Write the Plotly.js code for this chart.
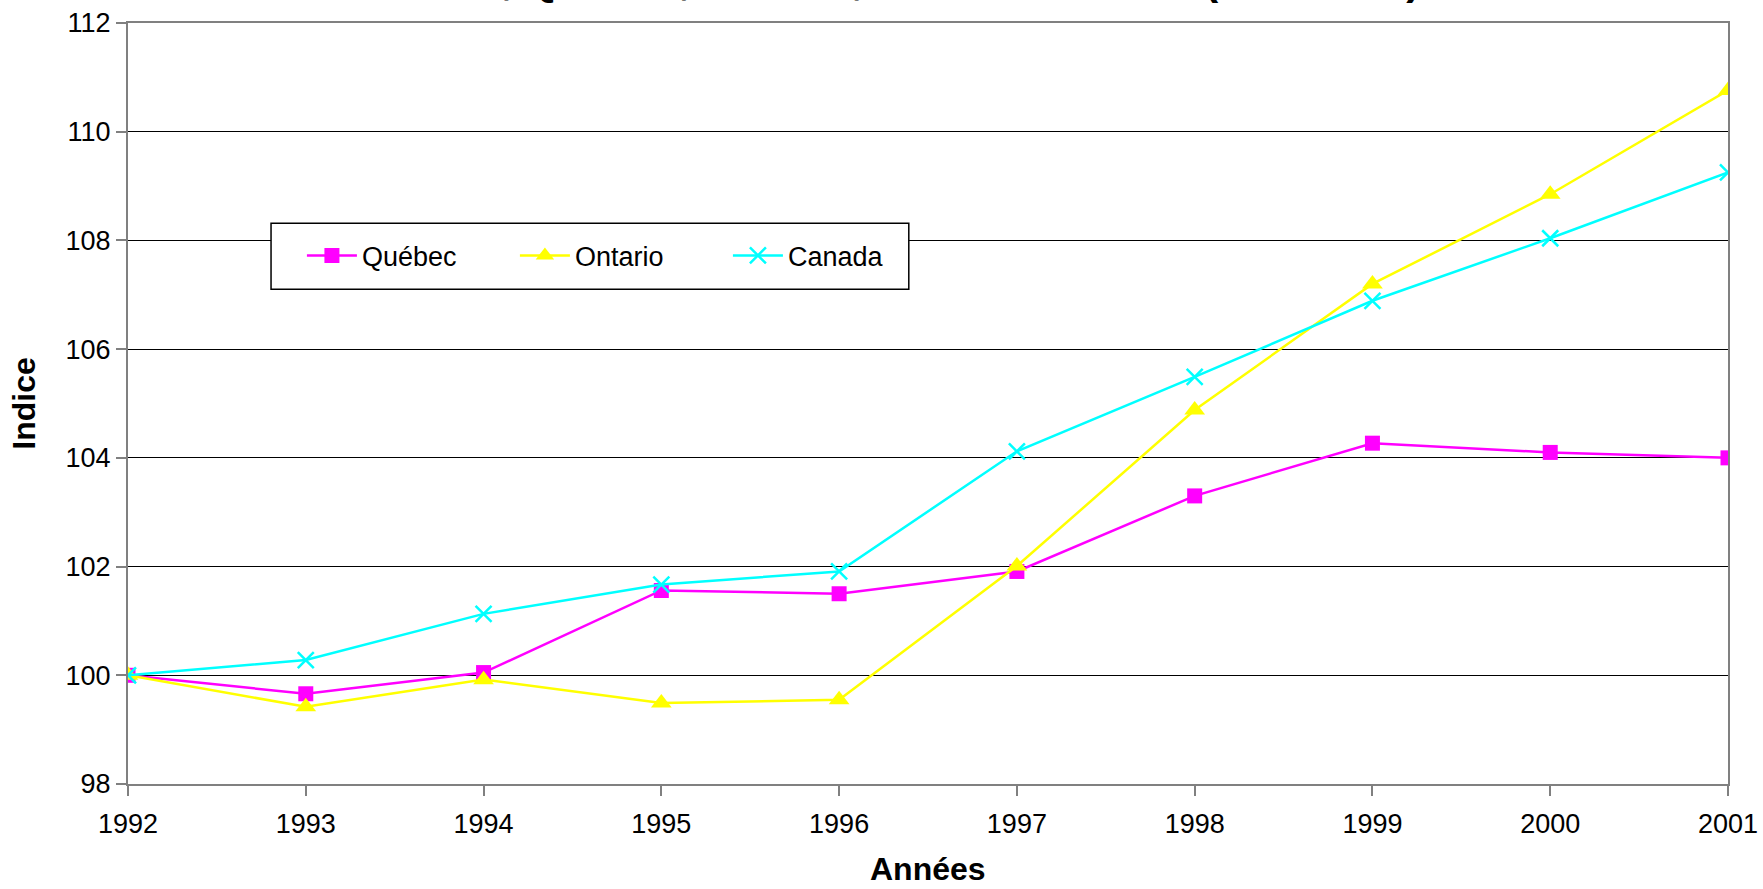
<!DOCTYPE html>
<html>
<head>
<meta charset="utf-8">
<script src="https://cdn.plot.ly/plotly-3.0.1.min.js"></script>
<style>
  html, body { margin: 0; padding: 0; background: #ffffff; }
  #chart { width: 1763px; height: 889px; }
</style>
</head>
<body>
<div id="chart"></div>
<script>
// ---- data ----
const years   = [1992, 1993, 1994, 1995, 1996, 1997, 1998, 1999, 2000, 2001];
const quebec  = [100, 99.66, 100.05, 101.56, 101.50, 101.91, 103.30, 104.27, 104.10, 104.00];
const ontario = [100, 99.42, 99.92, 99.49, 99.55, 102.01, 104.88, 107.20, 108.85, 110.76];
const canada  = [100, 100.28, 101.13, 101.67, 101.91, 104.12, 105.49, 106.89, 108.04, 109.25];
const yTicks  = [98, 100, 102, 104, 106, 108, 110, 112];
const seriesNames = ['Québec', 'Ontario', 'Canada'];
const titleText = 'Heures travaillées, Québec, Ontario, Canada 1992-01 (1992=100)';
const xTitle = 'Années';
const yTitle = 'Indice';

const FONT = 'Arial, "Liberation Sans", sans-serif';

const traces = [
  {
    x: years, y: quebec, name: seriesNames[0], type: 'scatter', mode: 'lines+markers',
    line: { color: '#FF00FF', width: 2.5 },
    marker: { symbol: 'square', size: 15, color: '#FF00FF' }
  },
  {
    x: years, y: ontario, name: seriesNames[1], type: 'scatter', mode: 'lines+markers',
    line: { color: '#FFFF00', width: 2.5 },
    marker: { symbol: 'triangle-up', size: 18, color: '#FFFF00' }
  },
  {
    x: years, y: canada, name: seriesNames[2], type: 'scatter', mode: 'lines+markers',
    line: { color: '#00FFFF', width: 2.5 },
    marker: { symbol: 'x-thin-open', size: 16, color: '#00FFFF', line: { color: '#00FFFF', width: 2.5 } }
  }
];

const layout = {
  width: 1763, height: 889,
  paper_bgcolor: '#ffffff', plot_bgcolor: '#ffffff',
  margin: { l: 128, r: 35, t: 22.5, b: 105 },
  font: { family: FONT, size: 27, color: '#000000' },
  showlegend: true,
  legend: {
    orientation: 'h',
    x: 0.1087, xanchor: 'left',
    y: 0.7262, yanchor: 'top',
    bgcolor: 'rgba(0,0,0,0)', borderwidth: 0,
    font: { family: FONT, size: 27, color: '#000000' },
    entrywidth: 148, entrywidthmode: 'pixels',
    itemwidth: 50,
    traceorder: 'normal'
  },
  shapes: [
    {
      type: 'rect', xref: 'paper', yref: 'paper', layer: 'above',
      x0: 0.0894, x1: 0.488, y0: 0.650, y1: 0.7367,
      fillcolor: '#ffffff', line: { color: '#000000', width: 1.5 }
    }
  ],
  xaxis: {
    range: [1992, 2001],
    tickmode: 'array', tickvals: years, ticktext: years.map(String),
    ticks: 'outside', ticklen: 10, tickwidth: 2, tickcolor: '#808080',
    ticklabelstandoff: 5,
    showline: true, linecolor: '#808080', linewidth: 2, mirror: true,
    showgrid: false, zeroline: false,
    tickfont: { family: FONT, size: 27, color: '#000000' },
    automargin: false
  },
  yaxis: {
    range: [98, 112],
    tickmode: 'array', tickvals: yTicks, ticktext: yTicks.map(String),
    ticks: 'outside', ticklen: 10, tickwidth: 2, tickcolor: '#808080',
    showline: true, linecolor: '#808080', linewidth: 2, mirror: true,
    showgrid: true, gridcolor: '#000000', gridwidth: 1,
    zeroline: false,
    tickfont: { family: FONT, size: 27, color: '#000000' },
    title: { text: yTitle, standoff: 20, font: { family: FONT, size: 32, color: '#000000', weight: 'bold' } },
    automargin: false
  },
  annotations: [
    {
      text: titleText, showarrow: false,
      xref: 'paper', yref: 'paper',
      x: 0.0075, xanchor: 'left',
      y: 1, yanchor: 'bottom', yshift: 18,
      font: { family: FONT, size: 42, color: '#000000', weight: 'bold' }
    },
    {
      text: xTitle, showarrow: false,
      xref: 'paper', yref: 'paper',
      x: 0.5, xanchor: 'center',
      y: 0, yanchor: 'middle', yshift: -85,
      font: { family: FONT, size: 32, color: '#000000', weight: 'bold' }
    }
  ]
};

Plotly.newPlot('chart', traces, layout, { displayModeBar: false, staticPlot: true });
</script>
</body>
</html>
